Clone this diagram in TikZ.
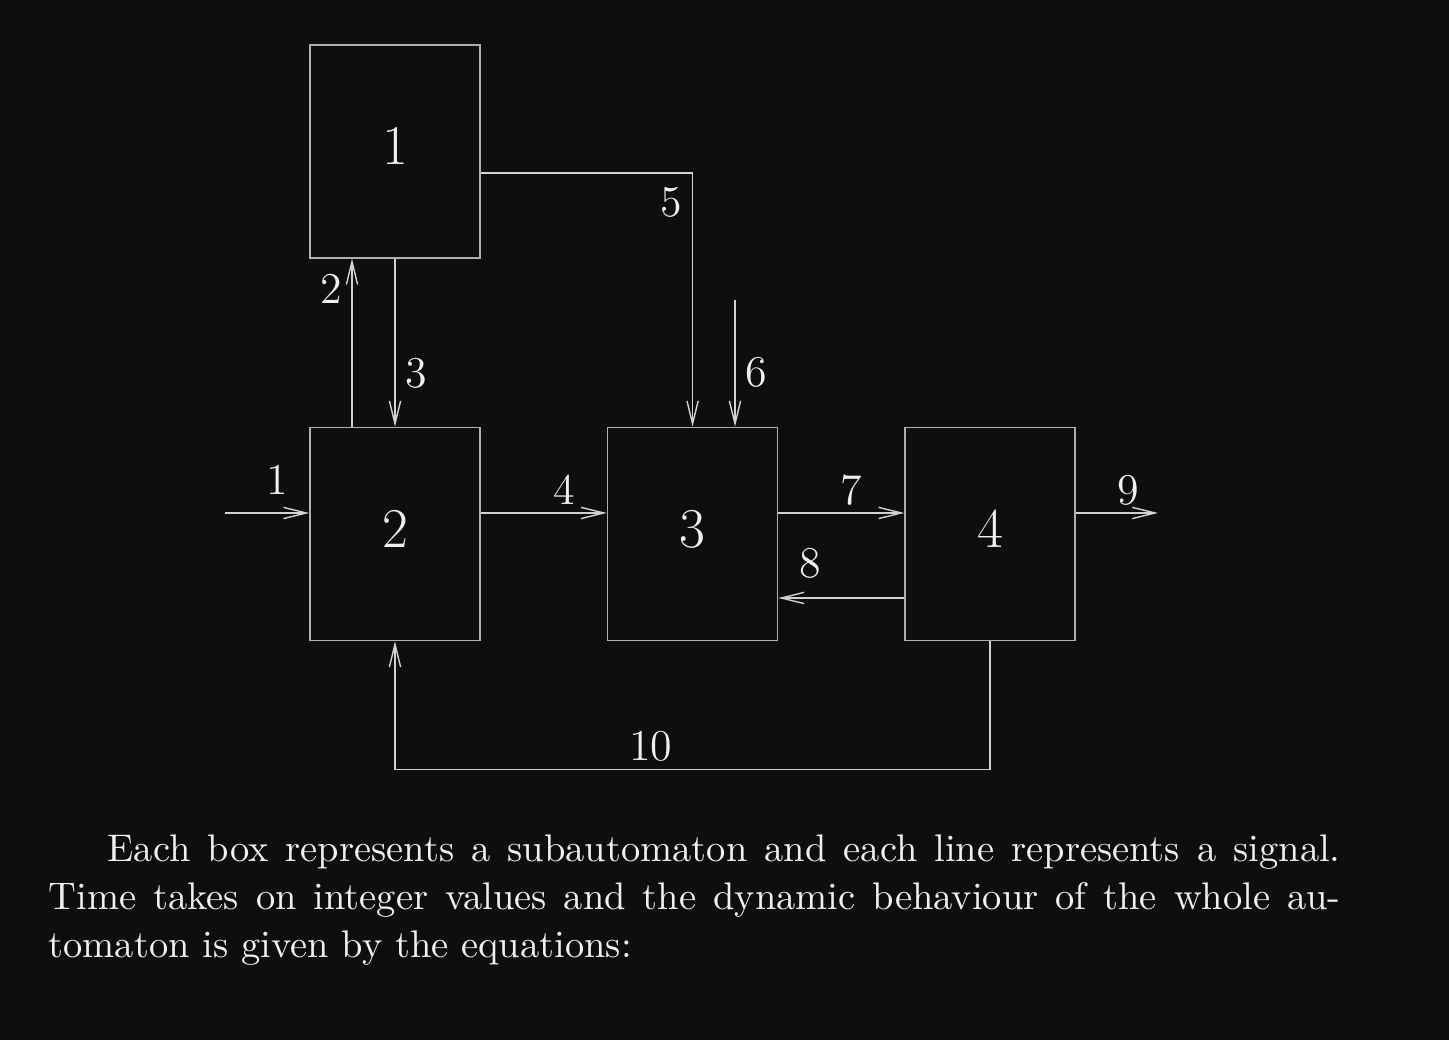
\documentclass[tikz,border=0pt]{standalone}
\usetikzlibrary{arrows.meta, positioning, calc}
\definecolor{bg_black}{RGB}{14, 14, 14}
\definecolor{box_gray}{RGB}{175, 175, 175}
\definecolor{wire_gray}{RGB}{210, 210, 210}
\definecolor{ink_white}{RGB}{240, 240, 240}

\begin{document}
\begin{tikzpicture}[
    block/.style={
        rectangle,
        draw=box_gray,
        line width=0.45pt,
        minimum width=1.70cm,
        minimum height=2.13cm,
        text=ink_white,
        inner sep=0pt,
        text depth=0.1cm,
        font=\fontsize{16}{19}\selectfont
    },
    signal/.style={
        -{Straight Barb[length=6.5pt, width=3.2pt]},
        draw=wire_gray,
        line width=0.4pt
    },
    lab/.style={
        text=ink_white,
        inner sep=0pt,
        font=\fontsize{12.5}{15}\selectfont
    }
]

\useasboundingbox (0,0) rectangle (14.49,10.40);
\fill[bg_black] (0,0) rectangle (14.49,10.40);

\node[block] (box2) at (3.95,5.06) {2};
\node[block, above=1.68cm of box2] (box1) {1};
\node[block, right=1.26cm of box2] (box3) {3};
\node[block, right=1.26cm of box3] (box4) {4};

\coordinate (in1) at (2.25,5.27);
\coordinate (in6) at (7.35,7.40);
\coordinate (out9) at (11.58,5.27);

\draw[signal] (in1) -- node[lab, pos=0.62, yshift=0.33cm] {1} (in1 -| box2.west);
\draw[signal] ([xshift=-0.43cm]box2.north) -- node[lab, pos=0.82, xshift=-0.21cm] {2} ([xshift=-0.43cm]box1.south);
\draw[signal] (box1.south) -- node[lab, pos=0.68, xshift=0.21cm] {3} (box2.north);
\draw[signal] (box2.east |- in1) -- node[lab, pos=0.66, yshift=0.23cm] {4} (box3.west |- in1);
\draw[signal] ([yshift=-0.215cm]box1.east) -| node[lab, pos=0.559, xshift=-0.21cm] {5} (box3.north);
\draw[signal] (in6) -- node[lab, pos=0.57, xshift=0.21cm] {6} (in6 |- box3.north);
\draw[signal] (box3.east |- in1) -- node[lab, pos=0.58, yshift=0.23cm] {7} (box4.west |- in1);
\draw[signal] ([yshift=-0.64cm]box4.west) -- node[lab, pos=0.75, yshift=0.35cm] {8} ([yshift=-0.64cm]box3.east);
\draw[signal] (box4.east |- in1) -- node[lab, pos=0.64, yshift=0.23cm] {9} (out9);
\draw[signal] (box4.south) -- ++(0,-1.28) -| node[lab, pos=0.285, yshift=0.23cm] {10} (box2.south);

\node[anchor=north west, inner sep=0pt, text width=12.92cm, align=justify, text=ink_white,
      font=\fontsize{10.95}{13.66}\selectfont] (caption) at (0.48,2.06)
    {\hspace*{0.59cm}Each box represents a subautomaton and each line represents a signal.\linebreak
     Time takes on integer values and the dynamic behaviour of the whole au-\linebreak
     tomaton is given by the equations:};

\end{tikzpicture}
\end{document}
